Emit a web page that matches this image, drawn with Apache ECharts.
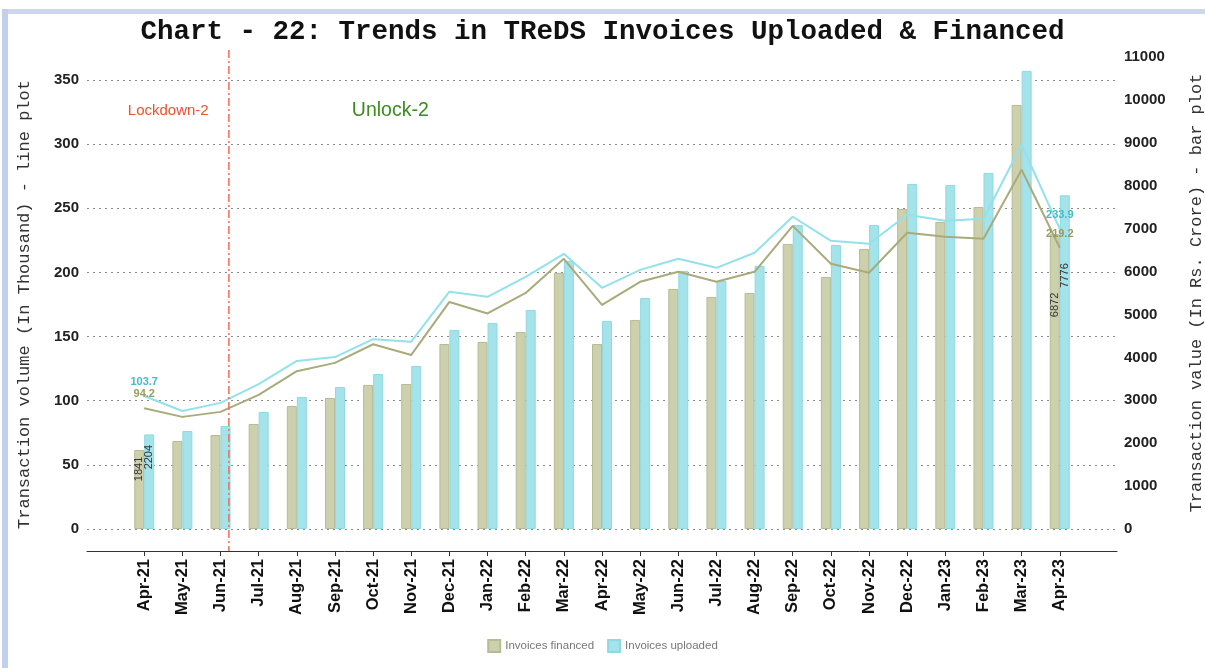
<!DOCTYPE html>
<html>
<head>
<meta charset="utf-8">
<style>
html,body{margin:0;padding:0;background:#fff;}
#main{width:1205px;height:668px;}
</style>
<script src="https://cdn.jsdelivr.net/npm/echarts@6/dist/echarts.min.js"></script>
</head>
<body>
<div id="main"></div>
<script>
// ---- data ----
const months = ['Apr-21','May-21','Jun-21','Jul-21','Aug-21','Sep-21','Oct-21','Nov-21','Dec-21','Jan-22','Feb-22','Mar-22','Apr-22','May-22','Jun-22','Jul-22','Aug-22','Sep-22','Oct-22','Nov-22','Dec-22','Jan-23','Feb-23','Mar-23','Apr-23'];
// Transaction value (Rs. Crore) - bars
const financedValue = [1841,2051,2191,2448,2867,3054,3357,3380,4312,4359,4592,5970,4312,4872,5594,5408,5501,6643,5874,6527,7459,7156,7506,9883,6872];
const uploadedValue = [2204,2284,2401,2727,3077,3310,3613,3800,4639,4802,5105,6250,4848,5385,6014,5781,6131,7086,6620,7086,8042,8019,8298,10676,7776];
// Transaction volume (thousand) - lines
const financedVolume = [94.2,87.4,91.3,104.5,123,129.5,144,135.7,177,168,184,210.6,174.7,192.7,200.5,192.7,200.5,236.3,206.7,199.7,230.9,227.8,226.2,280,219.2];
const uploadedVolume = [103.7,92,98.3,113,131,134,148,146,185,181,196.5,214.5,188,202,210.6,203.6,215.3,243.4,224.6,222.3,245,240.2,241.8,299.5,233.9];
const leftTicks = [0,50,100,150,200,250,300,350];
const rightTicks = [0,1000,2000,3000,4000,5000,6000,7000,8000,9000,10000,11000];

// axis padding (one empty slot each side, as in the reference)
const axisCats = [''].concat(months).concat(['']);
const pad = arr => ['-'].concat(arr).concat(['-']);
const firstIdx = 1, lastIdx = months.length;
const edgeOnly = p => (p.dataIndex === firstIdx || p.dataIndex === lastIdx) ? String(p.value) : '';

const chart = echarts.init(document.getElementById('main'), null, {renderer:'canvas'});
const gridL = 87, gridR = 88;

const option = {
  animation:false,
  backgroundColor:'#ffffff',
  title:{
    text:'Chart - 22: Trends in TReDS Invoices Uploaded & Financed',
    left:'center', top:13,
    textStyle:{fontFamily:'Liberation Mono', fontWeight:'bold', fontSize:27.5, color:'#111'}
  },
  legend:{
    bottom:10, left:'center',
    data:['Invoices financed','Invoices uploaded'],
    icon:'rect', itemWidth:12, itemHeight:12, itemGap:13,
    textStyle:{fontFamily:'Liberation Sans', fontSize:11.5, color:'#777'}
  },
  grid:[
    {left:gridL, right:gridR, top:80, bottom:139, containLabel:false, outerBoundsMode:'none'},
    {left:gridL, right:gridR, top:57, bottom:139, containLabel:false, outerBoundsMode:'none'}
  ],
  xAxis:[
    {type:'category', gridIndex:0, data:axisCats, boundaryGap:true, offset:22,
     axisLine:{show:true, onZero:false, lineStyle:{color:'#333', width:1}},
     axisTick:{show:true, alignWithLabel:true, length:5, lineStyle:{color:'#333'},
               interval:(i,v)=> v !== ''},
     axisLabel:{rotate:90, interval:0, margin:8, fontFamily:'Liberation Sans', fontWeight:'bold', fontSize:16.5, color:'#111'}
    },
    {type:'category', gridIndex:1, data:axisCats, boundaryGap:true, show:false}
  ],
  yAxis:[
    {type:'value', gridIndex:0, min:leftTicks[0], max:leftTicks[leftTicks.length-1], interval:50,
     name:'Transaction volume (In Thousand) - line plot', nameLocation:'middle', nameRotate:90, nameGap:54,
     nameTextStyle:{fontFamily:'Liberation Mono', fontSize:17, color:'#333'},
     axisLine:{show:false}, axisTick:{show:false},
     axisLabel:{margin:8, fontFamily:'Liberation Sans', fontWeight:'bold', fontSize:15, color:'#222'},
     splitLine:{show:true, lineStyle:{color:'#8a8a8a', width:1.2, type:[2,4]}}
    },
    {type:'value', gridIndex:1, position:'right', min:rightTicks[0], max:rightTicks[rightTicks.length-1], interval:1000,
     name:'Transaction value (In Rs. Crore) - bar plot', nameLocation:'middle', nameRotate:90, nameGap:71,
     nameTextStyle:{fontFamily:'Liberation Mono', fontSize:17, color:'#333'},
     axisLine:{show:false}, axisTick:{show:false},
     axisLabel:{margin:7, formatter:v => String(v), fontFamily:'Liberation Sans', fontWeight:'bold', fontSize:15, color:'#222'},
     splitLine:{show:false}
    }
  ],
  series:[
    {name:'Invoices financed', type:'bar', xAxisIndex:1, yAxisIndex:1, data:pad(financedValue),
     barWidth:10, barGap:'0%', z:2,
     itemStyle:{color:'#cdd0ad', borderColor:'#b7bb92', borderWidth:1},
     label:{show:true, position:['50%','24%'], rotate:90, align:'center', verticalAlign:'middle',
            formatter:edgeOnly, fontFamily:'Liberation Sans', fontSize:11, color:'#333'}
    },
    {name:'Invoices uploaded', type:'bar', xAxisIndex:1, yAxisIndex:1, data:pad(uploadedValue),
     barWidth:10, barGap:'0%', z:2,
     itemStyle:{color:'#a5e3ea', borderColor:'#8ed9e2', borderWidth:1},
     label:{show:true, position:['50%','24%'], rotate:90, align:'center', verticalAlign:'middle',
            formatter:edgeOnly, fontFamily:'Liberation Sans', fontSize:11, color:'#333'}
    },
    {name:'Volume uploaded', type:'line', xAxisIndex:0, yAxisIndex:0, data:pad(uploadedVolume),
     symbol:'circle', symbolSize:1, showSymbol:true, z:5,
     itemStyle:{color:'#93e1ea'}, lineStyle:{color:'#93e1ea', width:2},
     label:{show:true, position:'top', distance:8, formatter:edgeOnly,
            fontFamily:'Liberation Sans', fontWeight:'bold', fontSize:11, color:'#40bccb'}
    },
    {name:'Volume financed', type:'line', xAxisIndex:0, yAxisIndex:0, data:pad(financedVolume),
     symbol:'circle', symbolSize:1, showSymbol:true, z:5,
     itemStyle:{color:'#a9ab7b'}, lineStyle:{color:'#a9ab7b', width:2},
     label:{show:true, position:'top', distance:8, formatter:edgeOnly,
            fontFamily:'Liberation Sans', fontWeight:'bold', fontSize:11, color:'#959d5e'}
    }
  ]
};
chart.setOption(option);

// annotations positioned from the category scale
const xAt = m => chart.convertToPixel({xAxisIndex:0}, m);
const step = xAt('May-21') - xAt('Apr-21');
const xRed = xAt('Jun-21') + 0.22*step;
chart.setOption({
  graphic:[
    {type:'rect', silent:true, shape:{x:8, y:9, width:1197, height:5}, style:{fill:'#cdd8ee'}},
    {type:'rect', silent:true, shape:{x:2, y:9, width:6, height:659}, style:{fill:'#c3d0ec'}},
    {type:'line', silent:true, z:10, shape:{x1:xRed, y1:50, x2:xRed, y2:551},
     style:{stroke:'#f26a56', lineWidth:1.5, lineDash:[8,3,2,3]}},
    {type:'text', silent:true, z:10, x:xAt('Apr-21') + 0.63*step, y:111,
     style:{text:'Lockdown-2', fill:'#f0502e', font:'15px "Liberation Sans"', align:'center', verticalAlign:'middle'}},
    {type:'text', silent:true, z:10, x:xAt('Oct-21') + 0.45*step, y:111,
     style:{text:'Unlock-2', fill:'#3d8a1e', font:'19.5px "Liberation Sans"', align:'center', verticalAlign:'middle'}}
  ]
});
</script>
</body>
</html>
